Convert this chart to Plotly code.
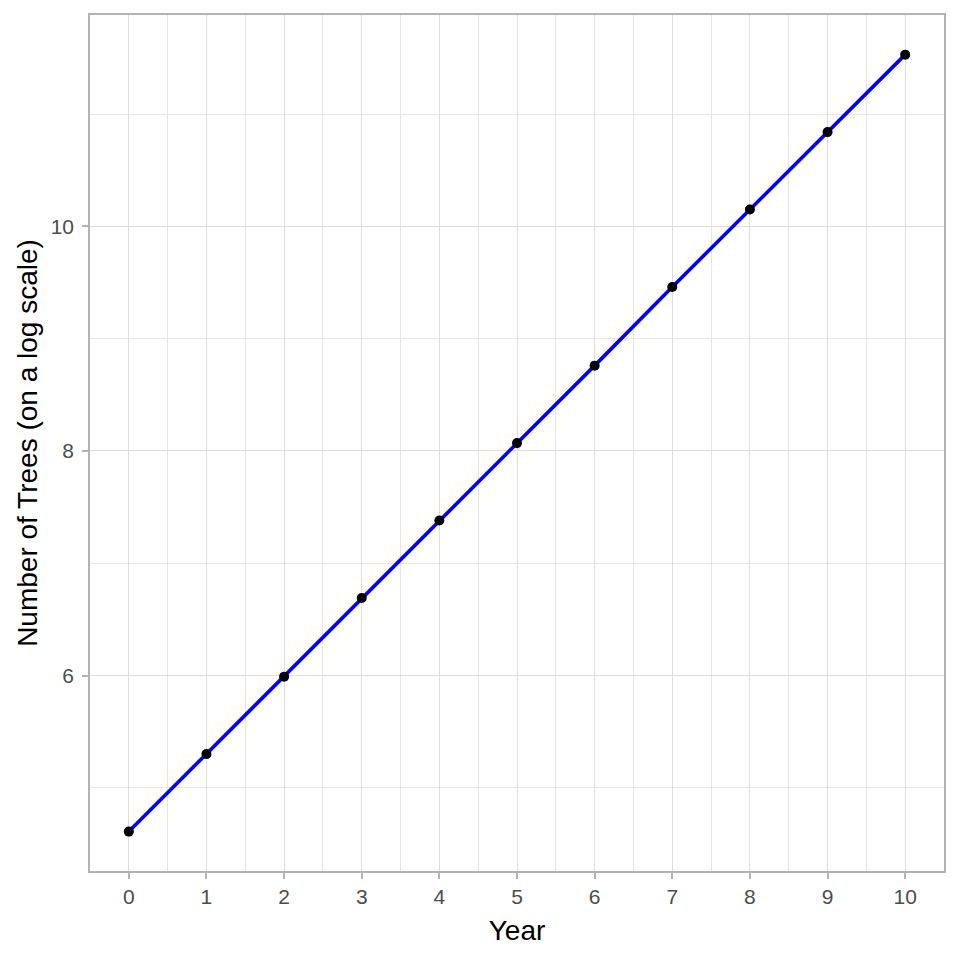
import plotly.graph_objects as go

years = [0, 1, 2, 3, 4, 5, 6, 7, 8, 9, 10]
log_trees = [4.61, 5.30, 5.99, 6.69, 7.38, 8.07, 8.76, 9.46, 10.15, 10.84, 11.53]
x_ticks = [0, 1, 2, 3, 4, 5, 6, 7, 8, 9, 10]
y_ticks = [6, 8, 10]

FONT = "Liberation Sans, Arial, sans-serif"

fig = go.Figure()
fig.add_trace(go.Scatter(x=years, y=log_trees, mode="lines",
                         line=dict(color="#0000FF", width=3.6), hoverinfo="skip"))
fig.add_trace(go.Scatter(x=years, y=log_trees, mode="markers",
                         marker=dict(color="black", size=10)))

axis_common = dict(
    showline=True, linecolor="#B3B3B3", linewidth=1.5, mirror=True,
    ticks="outside", ticklen=6, tickcolor="#B3B3B3", tickwidth=1.5,
    gridcolor="#DEDEDE", gridwidth=1, zeroline=False,
    tickfont=dict(family=FONT, size=21, color="#4D4D4D"),
    title_font=dict(family=FONT, size=28, color="black"),
)

fig.update_xaxes(**axis_common, range=[-0.5, 10.5], tickvals=x_ticks,
                 title_text="Year", title_standoff=13,
                 minor=dict(dtick=0.5, tick0=0.5, showgrid=True, gridcolor="#E6E6E6", gridwidth=0.8, ticks=""))
fig.update_yaxes(**axis_common, range=[4.259, 11.883], tickvals=y_ticks,
                 ticklabelstandoff=4,
                 title_text="Number of Trees (on a log scale)", title_standoff=5,
                 minor=dict(dtick=1, tick0=1, showgrid=True, gridcolor="#E6E6E6", gridwidth=0.8, ticks=""))

fig.update_layout(
    width=960, height=960, showlegend=False,
    plot_bgcolor="white", paper_bgcolor="white",
    margin=dict(l=90, r=16, t=15, b=89),
)
fig.write_html("out.html", config={"displayModeBar": False},
               post_script="document.body.style.margin='0';document.body.style.overflow='hidden';")
